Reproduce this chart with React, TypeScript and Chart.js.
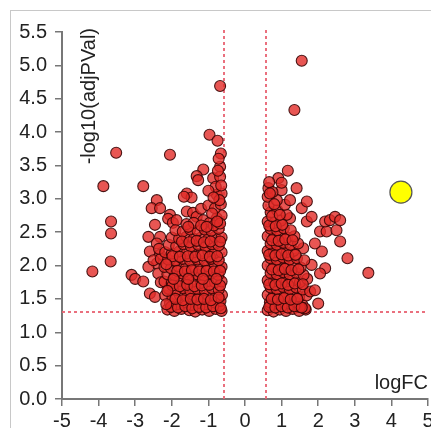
import { useEffect, useRef } from "react";
import { Chart, registerables } from "chart.js";

Chart.register(...registerables);

// logFC, -log10(adjPVal)
const downRegulated: [number, number][] = [
  // sparse / outer points
  [-4.17, 1.91], [-3.67, 2.06], [-3.66, 2.48], [-3.66, 2.66], [-3.87, 3.19], [-2.78, 3.19],
  [-3.52, 3.69], [-2.05, 3.66], [-3.1, 1.86], [-3.0, 1.8], [-0.68, 4.69],
  [-0.97, 3.96], [-0.75, 3.87], [-0.66, 3.68], [-0.68, 3.48], [-1.14, 3.44], [-1.32, 3.34],
  [-1.28, 3.28], [-0.87, 3.31], [-0.68, 3.33],
  [-1.59, 3.08], [-1.46, 3.02], [-1.67, 3.03], [-0.77, 3.06], [-0.64, 3.08],
  [-2.41, 2.98], [-2.55, 2.86], [-2.32, 2.86],
  [-2.05, 2.76], [-2.1, 2.7], [-1.97, 2.64], [-1.87, 2.68],
  [-1.59, 2.81], [-1.42, 2.79], [-1.32, 2.73],
  [-1.14, 2.68], [-0.96, 2.64], [-0.77, 2.71], [-0.64, 2.75],
  [-2.46, 2.61], [-2.64, 2.43], [-2.32, 2.43], [-2.41, 2.33], [-2.6, 2.21], [-2.32, 2.16],
  [-2.41, 2.03], [-2.64, 1.98], [-2.5, 2.08], [-2.37, 1.88], [-2.78, 1.76],
  [-2.6, 1.58], [-2.46, 1.53],
  [-2.3, 2.1], [-2.35, 2.25], [-2.3, 1.75],
  // dense block
  [-2.12, 1.34], [-1.93, 1.32], [-1.74, 1.35], [-1.52, 1.33], [-1.36, 1.31], [-1.17, 1.34],
  [-0.98, 1.32], [-0.8, 1.35], [-0.64, 1.32], [-0.7, 1.4],
  [-2.05, 1.44], [-1.85, 1.42], [-1.64, 1.45], [-1.45, 1.41], [-1.26, 1.44], [-1.07, 1.42],
  [-0.88, 1.45], [-0.67, 1.47],
  [-2.18, 1.55], [-1.98, 1.52], [-1.78, 1.56], [-1.58, 1.53], [-1.39, 1.55], [-1.2, 1.52],
  [-1.0, 1.55], [-0.8, 1.53], [-0.63, 1.56],
  [-2.08, 1.65], [-1.88, 1.63], [-1.68, 1.66], [-1.49, 1.62], [-1.3, 1.65], [-1.1, 1.63],
  [-0.9, 1.66], [-0.72, 1.64],
  [-2.2, 1.76], [-2.0, 1.74], [-1.8, 1.77], [-1.6, 1.74], [-1.4, 1.76], [-1.2, 1.74],
  [-1.0, 1.77], [-0.82, 1.75], [-0.64, 1.76],
  [-2.12, 1.87], [-1.92, 1.85], [-1.71, 1.88], [-1.52, 1.85], [-1.32, 1.87], [-1.12, 1.85],
  [-0.92, 1.88], [-0.73, 1.86],
  [-2.2, 1.98], [-2.02, 1.96], [-1.82, 1.99], [-1.62, 1.96], [-1.42, 1.98], [-1.22, 1.96],
  [-1.02, 1.99], [-0.83, 1.97], [-0.64, 1.98],
  [-2.1, 2.09], [-1.9, 2.07], [-1.7, 2.1], [-1.5, 2.07], [-1.3, 2.09], [-1.1, 2.07],
  [-0.92, 2.1], [-0.72, 2.08],
  [-2.18, 2.2], [-2.0, 2.18], [-1.8, 2.21], [-1.6, 2.18], [-1.4, 2.2], [-1.2, 2.18],
  [-1.0, 2.21], [-0.82, 2.19], [-0.64, 2.2],
  [-2.08, 2.31], [-1.88, 2.29], [-1.68, 2.32], [-1.48, 2.29], [-1.28, 2.31], [-1.08, 2.29],
  [-0.9, 2.32], [-0.72, 2.3],
  [-2.0, 2.42], [-1.8, 2.4], [-1.6, 2.43], [-1.4, 2.4], [-1.2, 2.42], [-1.0, 2.4],
  [-0.82, 2.43], [-0.64, 2.42],
  [-1.9, 2.53], [-1.7, 2.51], [-1.5, 2.54], [-1.3, 2.52], [-1.1, 2.54], [-0.92, 2.52],
  [-0.72, 2.55],
  [-1.6, 2.62], [-1.4, 2.64], [-1.2, 2.6], [-0.85, 2.6], [-0.68, 2.63],
  [-1.2, 2.85], [-1.0, 2.9], [-0.82, 2.86], [-0.66, 2.92], [-0.9, 2.78],
  [-0.8, 3.18], [-0.65, 3.2], [-1.0, 3.12],
  // second layer in the core
  [-2.02, 1.38], [-1.83, 1.37], [-1.63, 1.39], [-1.44, 1.36], [-1.25, 1.38], [-1.06, 1.37],
  [-0.87, 1.39], [-0.66, 1.36],
  [-1.9, 1.5], [-1.7, 1.48], [-1.48, 1.5], [-1.3, 1.49], [-1.12, 1.5], [-0.93, 1.48], [-0.72, 1.52],
  [-1.98, 1.7], [-1.78, 1.69], [-1.58, 1.71], [-1.38, 1.69], [-1.18, 1.7], [-0.98, 1.71], [-0.68, 1.7],
  [-1.85, 1.92], [-1.64, 1.91], [-1.45, 1.93], [-1.25, 1.91], [-1.05, 1.92], [-0.85, 1.91], [-0.68, 1.92],
  [-1.98, 2.14], [-1.78, 2.13], [-1.56, 2.14], [-1.36, 2.13], [-1.16, 2.15], [-0.96, 2.13], [-0.76, 2.14],
  [-1.72, 2.36], [-1.52, 2.35], [-1.32, 2.37], [-1.12, 2.35], [-0.94, 2.36], [-0.68, 2.36],
  [-1.55, 2.58], [-1.05, 2.58], [-0.76, 2.66], [-0.7, 2.98], [-0.86, 3.02], [-0.74, 3.42], [-0.72, 3.6],
  [-2.15, 1.42], [-2.12, 1.62], [-2.15, 2.02], [-1.95, 1.8], [-1.55, 1.8], [-1.15, 1.8], [-0.78, 1.8],
];

const upRegulated: [number, number][] = [
  [0.62, 1.33], [0.78, 1.31], [0.95, 1.34], [1.12, 1.32], [1.3, 1.35], [1.48, 1.32],
  [1.66, 1.34], [0.7, 1.4],
  [0.68, 1.45], [0.86, 1.43], [1.03, 1.46], [1.2, 1.43], [1.38, 1.45], [1.56, 1.42], [2.0, 1.43],
  [0.62, 1.56], [0.78, 1.54], [0.95, 1.57], [1.12, 1.54], [1.3, 1.56], [1.48, 1.53], [1.68, 1.55],
  [0.7, 1.67], [0.87, 1.65], [1.04, 1.68], [1.22, 1.65], [1.4, 1.67], [1.58, 1.64], [1.78, 1.61],
  [1.91, 1.63],
  [0.62, 1.78], [0.79, 1.76], [0.96, 1.79], [1.13, 1.76], [1.3, 1.78], [1.5, 1.75], [1.7, 1.8],
  [0.7, 1.89], [0.87, 1.87], [1.05, 1.9], [1.22, 1.87], [1.4, 1.89], [1.6, 1.86],
  [0.62, 2.0], [0.79, 1.98], [0.96, 2.01], [1.13, 1.98], [1.32, 2.0], [1.52, 1.97], [1.82, 2.01],
  [2.19, 1.96], [2.05, 1.88],
  [0.7, 2.11], [0.87, 2.09], [1.04, 2.12], [1.22, 2.09], [1.42, 2.11], [1.62, 2.08],
  [0.62, 2.22], [0.79, 2.2], [0.96, 2.23], [1.14, 2.2], [1.33, 2.22], [1.59, 2.26], [2.1, 2.21],
  [2.8, 2.11],
  [0.7, 2.33], [0.87, 2.31], [1.05, 2.34], [1.24, 2.31], [1.45, 2.33], [1.91, 2.33], [2.6, 2.36],
  [0.62, 2.44], [0.79, 2.42], [0.96, 2.45], [1.15, 2.42], [1.35, 2.44],
  [0.7, 2.55], [0.88, 2.53], [1.06, 2.56], [1.25, 2.53], [2.05, 2.51], [2.23, 2.51], [2.5, 2.53],
  [0.62, 2.66], [0.8, 2.64], [0.98, 2.67], [1.23, 2.71], [1.14, 2.76], [1.69, 2.66], [1.82, 2.73],
  [2.19, 2.66], [2.32, 2.68], [2.46, 2.73], [2.6, 2.68],
  [0.7, 2.8], [0.88, 2.83], [0.64, 2.9], [1.09, 2.91], [1.55, 2.86], [1.23, 2.98], [1.69, 2.96],
  [0.87, 2.98], [0.62, 3.03],
  [0.64, 3.16], [1.0, 3.13], [1.41, 3.16], [0.91, 3.31], [1.0, 3.24], [1.17, 3.42],
  [1.35, 4.33], [1.55, 5.07], [0.75, 3.1], [0.66, 3.25],
  [1.64, 1.36], [1.5, 1.38], [3.37, 1.89],
  // second layer in the core
  [0.66, 1.38], [0.83, 1.37], [1.0, 1.39], [1.17, 1.37], [1.35, 1.39], [1.55, 1.37],
  [0.73, 1.5], [0.9, 1.49], [1.07, 1.51], [1.25, 1.49], [1.43, 1.5],
  [0.66, 1.72], [0.83, 1.71], [1.0, 1.73], [1.18, 1.71], [1.36, 1.73], [1.58, 1.72],
  [0.74, 1.94], [0.92, 1.93], [1.09, 1.95], [1.27, 1.93], [1.46, 1.94],
  [0.66, 2.16], [0.83, 2.15], [1.0, 2.17], [1.18, 2.15], [1.38, 2.16],
  [0.74, 2.38], [0.92, 2.37], [1.1, 2.39], [1.3, 2.38],
  [0.66, 2.6], [0.84, 2.59], [1.02, 2.61], [0.74, 2.74], [0.95, 2.76], [0.68, 3.08], [0.8, 2.92],
];

const highlighted: [number, number][] = [[4.26, 3.1]];

const FC_CUTOFF = 0.585;
const P_CUTOFF = 1.301;
const X_MIN = -5, X_MAX = 5, X_STEP = 1;
const Y_MIN = 0, Y_MAX = 5.5, Y_STEP = 0.5;
const X_TITLE = "logFC";
const Y_TITLE = "-log10(adjPVal)";

const FONT = "'Liberation Sans', Arial, Helvetica, sans-serif";
const FONT_SIZE = 20;

const overlay = {
  id: "overlay",
  beforeDatasetsDraw(chart: any) {
    const { ctx, chartArea, scales } = chart;
    const x = scales.x, y = scales.y;
    ctx.save();
    ctx.strokeStyle = "rgba(232,96,112,0.9)";
    ctx.lineWidth = 2;
    ctx.setLineDash([3, 3]);
    for (const v of [-FC_CUTOFF, FC_CUTOFF]) {
      const px = Math.round(x.getPixelForValue(v));
      ctx.beginPath();
      ctx.moveTo(px, chartArea.top - 2);
      ctx.lineTo(px, chartArea.bottom);
      ctx.stroke();
    }
    const py = Math.round(y.getPixelForValue(P_CUTOFF));
    ctx.beginPath();
    ctx.moveTo(chartArea.left, py);
    ctx.lineTo(chartArea.right, py);
    ctx.stroke();
    ctx.restore();
  },
  afterDraw(chart: any) {
    const { ctx, chartArea } = chart;
    ctx.save();
    ctx.fillStyle = "#222";
    ctx.font = `${FONT_SIZE}px ${FONT}`;
    ctx.textAlign = "right";
    ctx.textBaseline = "alphabetic";
    ctx.fillText(X_TITLE, chartArea.right, chartArea.bottom - 10);
    ctx.translate(chartArea.left + 33, chartArea.top - 4);
    ctx.rotate(-Math.PI / 2);
    ctx.fillText(Y_TITLE, 0, 0);
    ctx.restore();
  },
};

export default function App() {
  const ref = useRef<HTMLCanvasElement | null>(null);
  useEffect(() => {
    if (!ref.current) return;
    const pts = (a: [number, number][]) => a.map(([x, y]) => ({ x, y }));
    const red = {
      backgroundColor: "rgba(226,44,40,0.8)",
      borderColor: "rgba(55,6,6,0.9)",
      borderWidth: 1.1,
      pointRadius: 5.5,
    };
    const chart = new Chart(ref.current, {
      type: "scatter",
      data: {
        datasets: [
          {
            data: pts(highlighted),
            backgroundColor: "#ffff00",
            borderColor: "#555",
            borderWidth: 1.2,
            pointRadius: 11,
          },
          { data: pts(upRegulated), ...red },
          { data: pts(downRegulated), ...red },
        ],
      },
      options: {
        animation: false,
        responsive: false,
        devicePixelRatio: 1,
        layout: { autoPadding: false, padding: { top: 32, right: 3, left: 0, bottom: 0 } },
        plugins: { legend: { display: false }, tooltip: { enabled: false } },
        elements: { point: { hoverRadius: 5.5 } },
        scales: {
          x: {
            type: "linear",
            min: X_MIN,
            max: X_MAX,
            ticks: {
              stepSize: X_STEP,
              autoSkip: false,
              maxRotation: 0,
              color: "#222",
              font: { size: FONT_SIZE, family: FONT },
              padding: 3,
            },
            grid: { drawOnChartArea: false, drawTicks: true, tickLength: 7, color: "#777", lineWidth: 1.5 },
            border: { display: true, color: "#777", width: 2 },
            afterFit: (s: any) => {
              s.height = 29;
              s.paddingLeft = 0;
              s.paddingRight = 0;
            },
          },
          y: {
            type: "linear",
            min: Y_MIN,
            max: Y_MAX,
            ticks: {
              stepSize: Y_STEP,
              autoSkip: false,
              color: "#222",
              font: { size: FONT_SIZE, family: FONT },
              padding: 8,
              callback: (v: any) => Number(v).toFixed(1),
            },
            grid: { drawOnChartArea: false, drawTicks: true, tickLength: 7, color: "#777", lineWidth: 1.5 },
            border: { display: true, color: "#777", width: 2 },
            afterFit: (s: any) => {
              s.width = 62;
              s.paddingTop = 0;
              s.paddingBottom = 0;
            },
          },
        },
      },
      plugins: [overlay],
    });
    return () => chart.destroy();
  }, []);

  return (
    <div style={{ position: "absolute", left: 0, top: 0, width: 431, height: 428, overflow: "hidden", background: "#fff" }}>
      <div
        style={{
          position: "absolute",
          left: 10,
          top: 10,
          width: 460,
          height: 460,
          border: "1px solid #c8c8c8",
          boxSizing: "border-box",
        }}
      />
      <canvas ref={ref} width={431} height={428} style={{ position: "absolute", left: 0, top: 0, width: 431, height: 428 }} />
    </div>
  );
}
